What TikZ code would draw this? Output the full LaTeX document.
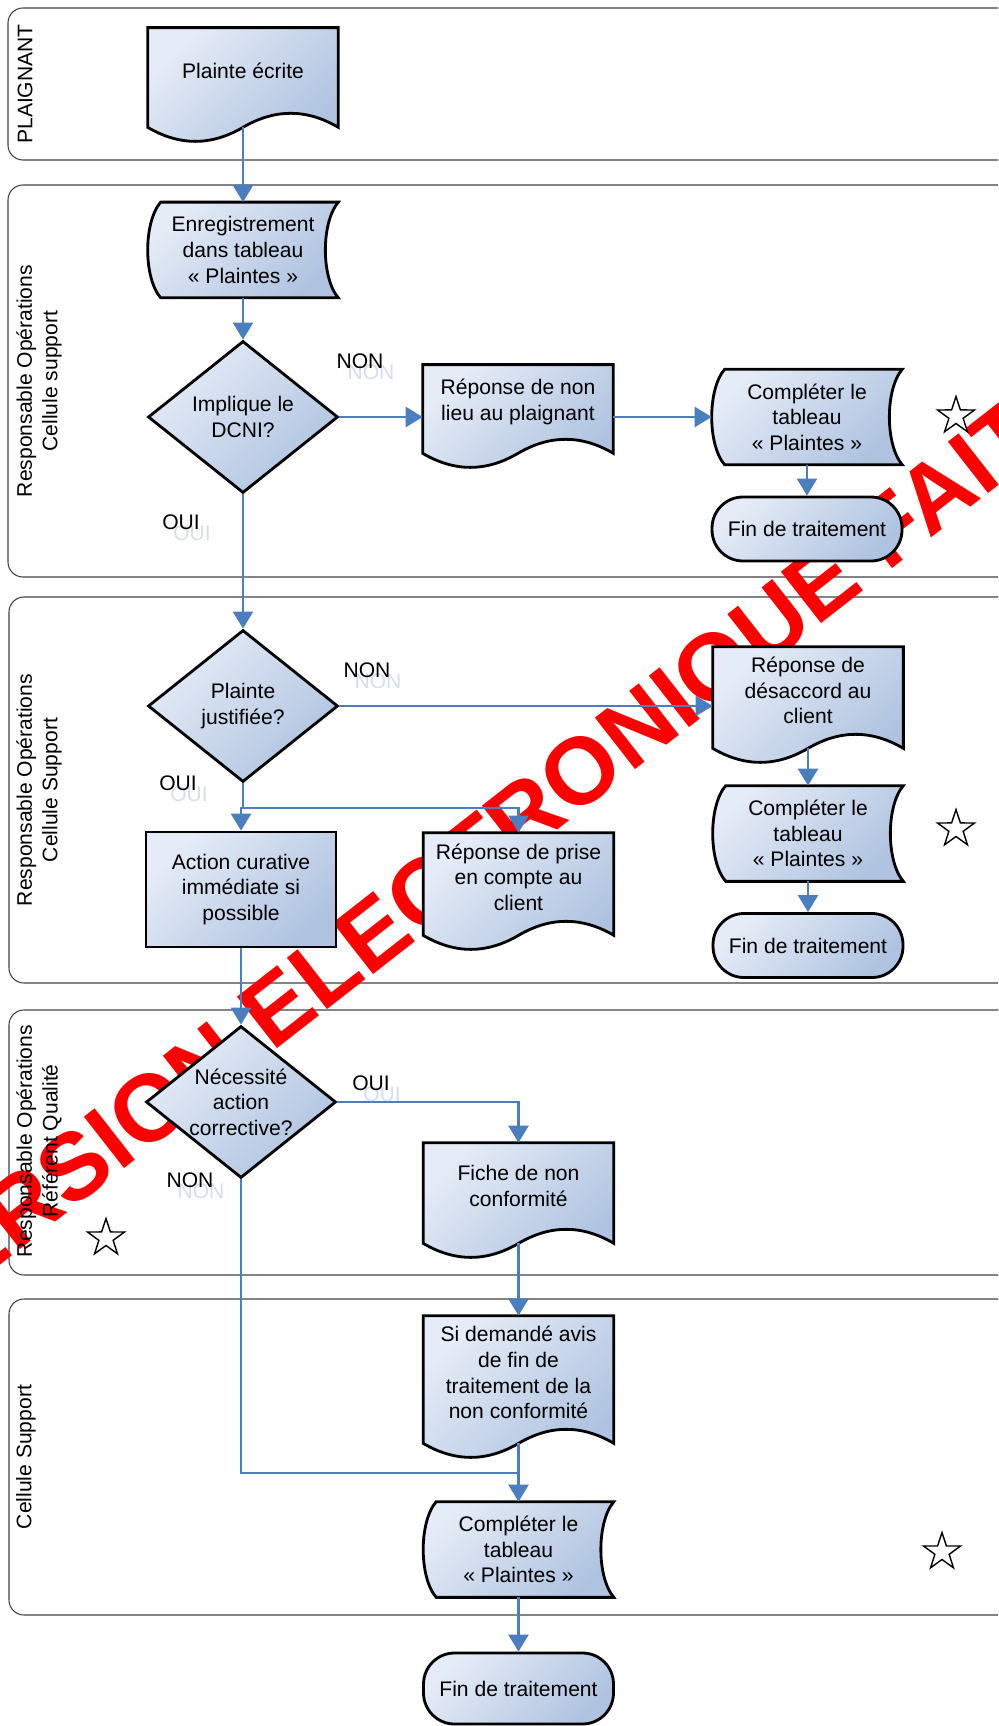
\documentclass[tikz,border=0pt]{standalone}
\usepackage{fontspec}
\setmainfont{Liberation Sans}
\usetikzlibrary{arrows.meta,calc,positioning,shapes.geometric}

\definecolor{flowblue}{HTML}{4A7EBF}
\definecolor{boxlight}{HTML}{E6ECF7}
\definecolor{boxdark}{HTML}{AFC3E0}
\definecolor{ghostblue}{HTML}{D5DDEE}

\pgfdeclarelayer{back}
\pgfdeclarelayer{shapes}
\pgfsetlayers{back,shapes,main}

% document outline (wavy bottom) behind a text node
\newcommand{\docshape}[1]{%
  \coordinate (#1-b) at ($(#1.south)+(0,14)$);
  \begin{pgfonlayer}{shapes}
    \path[blueshade] (#1.north west) -- (#1.north east) -- ($(#1.south east)+(0,14)$)
      .. controls ($(#1.south east)!0.167!(#1.south west)+(0,-4.7)$) and ($(#1.south east)!0.333!(#1.south west)+(0,-4.7)$) .. (#1-b)
      .. controls ($(#1.south east)!0.667!(#1.south west)+(0,32.7)$) and ($(#1.south east)!0.833!(#1.south west)+(0,32.7)$) .. ($(#1.south west)+(0,14)$)
      -- cycle;
  \end{pgfonlayer}}

% stored data outline behind a text node
\newcommand{\storeshape}[1]{%
  \begin{pgfonlayer}{shapes}
    \path[blueshade] ($(#1.north west)+(13,0)$) -- (#1.north east)
      .. controls ($(#1.north east)+(-17.3,20)$) and ($(#1.south east)+(-17.3,-20)$) .. (#1.south east)
      -- ($(#1.south west)+(13,0)$)
      .. controls ($(#1.south west)+(-4.3,-20)$) and ($(#1.north west)+(-4.3,20)$) .. ($(#1.north west)+(13,0)$)
      -- cycle;
  \end{pgfonlayer}}

\begin{document}
\begin{tikzpicture}[x=0.02cm,y=-0.02cm,
    every node/.style={font=\fontsize{12}{14.6}\selectfont},
    blueshade/.style={top color=boxlight,bottom color=boxdark,shading angle=45,draw=black,line width=1.6pt},
    decision/.style={diamond,aspect=1.25,blueshade,minimum width=3.8cm,minimum height=3.04cm,inner sep=0pt,align=center},
    process/.style={rectangle,blueshade,minimum width=3.8cm,minimum height=2.3cm,inner sep=0pt,align=center},
    terminal/.style={rectangle,rounded corners=0.62cm,blueshade,minimum width=3.8cm,minimum height=1.28cm,inner sep=0pt},
    docbox/.style={rectangle,minimum width=3.8cm,inner sep=0pt,align=center},
    storebox/.style={rectangle,minimum width=3.8cm,minimum height=1.9cm,inner sep=0pt,align=center},
    flowline/.style={draw=flowblue,line width=1.4pt},
    flowarrow/.style={flowline,-{Triangle[length=0.34cm,width=0.4cm]}},
    lanebox/.style={draw=black!75,line width=0.6pt,rounded corners=0.3cm},
    lanelabel/.style={rotate=90,align=center},
    yesno/.style={inner sep=0pt},
    ghostlbl/.style={inner sep=0pt,text=ghostblue},
    etoile/.style={star,star points=5,star point ratio=2.6,draw=black,fill=white,line width=0.8pt,minimum size=0.78cm,inner sep=0pt},
    filigrane/.style={text=red,rotate=38,inner sep=0pt,font=\bfseries\fontsize{54}{54}\selectfont}]

  \useasboundingbox (0,0) rectangle (998,1726);

  % swimlanes and watermark
  \begin{pgfonlayer}{back}
    \clip (0,0) rectangle (998,1726);
    \draw[lanebox] (8,8) rectangle (1015,160);
    \draw[lanebox] (8,185) rectangle (1015,577);
    \draw[lanebox] (9,597) rectangle (1015,983);
    \draw[lanebox] (9,1010) rectangle (1015,1275);
    \draw[lanebox] (9,1299) rectangle (1015,1615);
    \node[filigrane] (wm) at (468,870) {VERSION ELECTRONIQUE FAIT};
  \end{pgfonlayer}

  \node[lanelabel] (t1) at (25,84) {PLAIGNANT};
  \node[lanelabel] (t2) at (39,381) {Responsable Opérations\\Cellule support};
  \node[lanelabel] (t3) at (39,790) {Responsable Opérations\\Cellule Support};
  \node[lanelabel] (t4) at (39,1141) {Responsable Opérations\\Référent Qualité};
  \node[lanelabel] (t5) at (26,1457) {Cellule Support};

  % plaignant
  \node[docbox,minimum height=1.7cm] (plainte) at (243,70.5) {Plainte écrite};
  \docshape{plainte}

  % cellule support
  \node[storebox] (enreg) at (243,250) {Enregistrement\\dans tableau\\« Plaintes »};
  \storeshape{enreg}
  \node[decision] (dec1) at (243,417) {Implique le\\DCNI?};
  \node[docbox,minimum height=1.48cm] (nonlieu) at (518,402) {Réponse de non\\lieu au plaignant};
  \docshape{nonlieu}
  \node[storebox] (compl1) at (807,417) {Compléter le\\tableau\\« Plaintes »};
  \storeshape{compl1}
  \node[terminal] (fin1) at (807,529) {Fin de traitement};
  \node[etoile] (s1) at (956,416) {};

  % cellule support (2)
  \node[decision] (dec2) at (243,706) {Plainte\\justifiée?};
  \node[docbox,minimum height=1.74cm] (desacc) at (808,690.5) {Réponse de\\désaccord au\\client};
  \docshape{desacc}
  \node[storebox] (compl2) at (808,833.5) {Compléter le\\tableau\\« Plaintes »};
  \storeshape{compl2}
  \node[terminal] (fin2) at (808,945.5) {Fin de traitement};
  \node[etoile] (s2) at (956,829) {};
  \node[process] (action) at (241,889.5) {Action curative\\immédiate si\\possible};
  \node[docbox,minimum height=1.76cm] (prise) at (518.5,877) {Réponse de prise\\en compte au\\client};
  \docshape{prise}

  % referent qualite
  \node[decision] (dec3) at (241,1102) {Nécessité\\action\\corrective?};
  \node[docbox,minimum height=1.72cm] (fiche) at (518.5,1186) {Fiche de non\\conformité};
  \docshape{fiche}
  \node[etoile] (s3) at (106,1238) {};

  % cellule support (3)
  \node[docbox,minimum height=2.26cm] (sidem) at (518.5,1372.5) {Si demandé avis\\de fin de\\traitement de la\\non conformité};
  \docshape{sidem}
  \node[storebox] (compl3) at (518.5,1549.5) {Compléter le\\tableau\\« Plaintes »};
  \storeshape{compl3}
  \node[etoile] (s4) at (942,1552) {};
  \node[terminal,minimum height=1.42cm] (fin3) at (518.5,1688.5) {Fin de traitement};

  \coordinate (split) at (243,808);
  \coordinate (jonction) at (518.5,1473);

  % connectors
  \draw[flowarrow] (plainte-b) -- (enreg.north);
  \draw[flowarrow] (enreg.south) -- (dec1.north);
  \draw[flowarrow] (dec1.east) -- (dec1.east -| nonlieu.west);
  \draw[flowarrow] (compl1.west -| nonlieu.east) -- (compl1.west);
  \draw[flowarrow] (compl1.south) -- (fin1.north);
  \draw[flowarrow] (dec1.south) -- (dec2.north);
  \draw[flowarrow] (dec2.east) -- (dec2.east -| desacc.west);
  \draw[flowarrow] (desacc-b) -- (compl2.north);
  \draw[flowarrow] (compl2.south) -- (fin2.north);
  \draw[flowline] (dec2.south) -- (split);
  \draw[flowarrow] (split) -| (action.north);
  \draw[flowarrow] (split) -| (prise.north);
  \draw[flowarrow] (action.south) -- (dec3.north);
  \draw[flowarrow] (dec3.east) -| (fiche.north);
  \draw[flowarrow] (fiche-b) -- (sidem.north);
  \draw[flowline] (dec3.south) |- (jonction);
  \draw[flowarrow] (sidem-b) -- (compl3.north);
  \draw[flowarrow] (compl3.south) -- (fin3.north);

  % OUI / NON with their pale copies
  \node[ghostlbl] (n1g) at (371,372) {NON};
  \node[yesno] (n1) at (360,361) {NON};
  \node[ghostlbl] (o1g) at (192,533) {OUI};
  \node[yesno] (o1) at (181,522) {OUI};
  \node[ghostlbl] (n2g) at (378,681) {NON};
  \node[yesno] (n2) at (367,670) {NON};
  \node[ghostlbl] (o2g) at (189,794) {OUI};
  \node[yesno] (o2) at (178,783) {OUI};
  \node[ghostlbl] (o3g) at (382,1094) {OUI};
  \node[yesno] (o3) at (371,1083) {OUI};
  \node[ghostlbl] (n3g) at (201,1191) {NON};
  \node[yesno] (n3) at (190,1180) {NON};
\end{tikzpicture}
\end{document}
